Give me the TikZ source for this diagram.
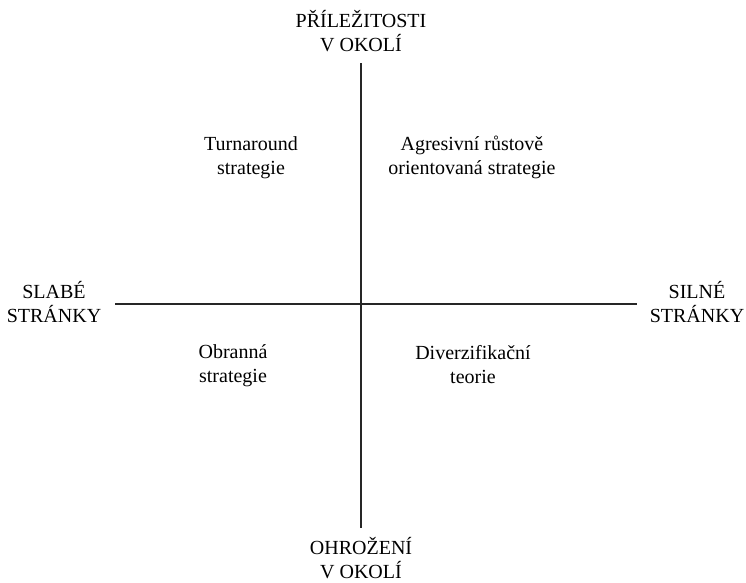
\documentclass[tikz,border=0pt]{standalone}
\usepackage{fontspec}
\setmainfont{Liberation Serif}
\begin{document}
\begin{tikzpicture}[x=1pt,y=-1pt,
  lbl/.style={align=center,font=\fontsize{20}{24}\selectfont,inner sep=0pt},
  axis/.style={line width=1.2pt,black!85}]
\useasboundingbox (0,0) rectangle (746,582);
\coordinate (top) at (361,63);
\coordinate (bot) at (361,528);
\coordinate (lft) at (115,304);
\coordinate (rgt) at (637,304);
\draw[axis] (top) -- (bot);
\draw[axis] (lft) -- (rgt);
\node[lbl] (ptop) at (361,31.5) {PŘÍLEŽITOSTI\\V OKOLÍ};
\node[lbl] (pbot) at (361,558.5) {OHROŽENÍ\\V OKOLÍ};
\node[lbl] (pl) at (54,302.5) {SLABÉ\\STRÁNKY};
\node[lbl] (pr) at (697,302.5) {SILNÉ\\STRÁNKY};
\node[lbl] (q1) at (251,157.5) {Turnaround\\strategie};
\node[lbl] (q2) at (472,157.5) {Agresivní růstově\\orientovaná strategie};
\node[lbl] (q3) at (233,366) {Obranná\\strategie};
\node[lbl] (q4) at (473,365) {Diverzifikační\\teorie};
\end{tikzpicture}
\end{document}
